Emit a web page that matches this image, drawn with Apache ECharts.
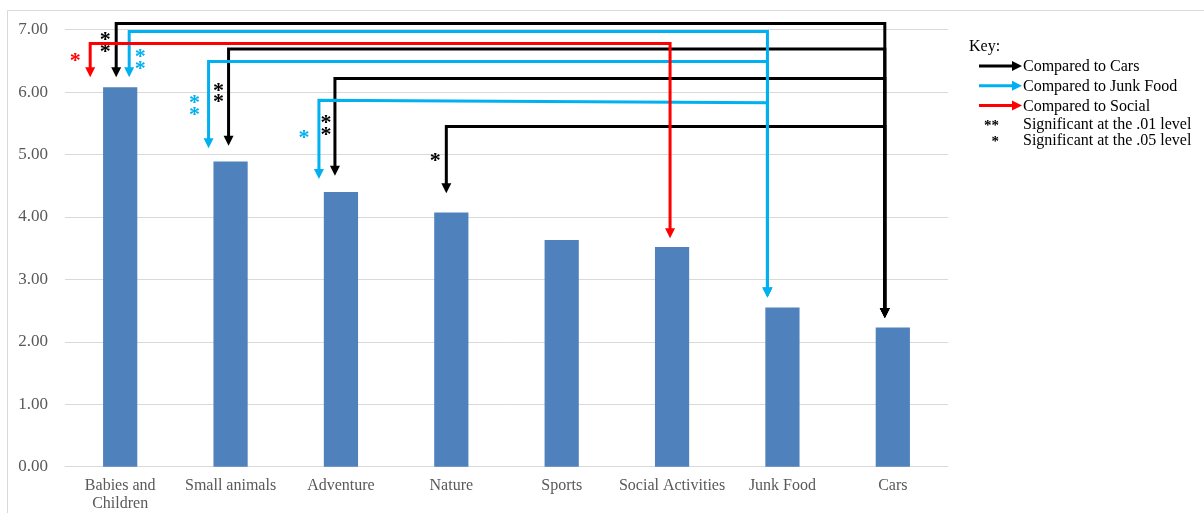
<!DOCTYPE html>
<html>
<head>
<meta charset="utf-8">
<title>Mean interest ratings by content category</title>
<script src="https://cdn.jsdelivr.net/npm/echarts@6/dist/echarts.min.js"></script>
<style>
  html, body { margin: 0; padding: 0; background: #ffffff; }
  #chart { width: 1204px; height: 513px; }
</style>
</head>
<body>
<div id="chart"></div>
<script>
// Categories along the x axis and their mean scores
const categories = ['Babies and\nChildren', 'Small animals', 'Adventure', 'Nature', 'Sports', 'Social Activities', 'Junk Food', 'Cars'];
const meanScores = [6.08, 4.89, 4.40, 4.07, 3.63, 3.52, 2.55, 2.23];
const yTicks = [0, 1, 2, 3, 4, 5, 6, 7];

// Pairwise comparisons: category compared against a reference category, with significance marker
const compareFrom = [0, 1, 2, 3, 0, 1, 2, 0];
const compareTo   = [7, 7, 7, 7, 6, 6, 6, 5];
const compareSig  = ['**', '**', '**', '*', '**', '**', '*', '*'];
const compareKind = ['cars', 'cars', 'cars', 'cars', 'junk', 'junk', 'junk', 'social'];

// Bracket geometry (value units for heights, px for horizontal nudges)
const bracketLevel    = [7.10, 6.69, 6.22, 5.45, 6.97, 6.49, 5.87, 6.78];
const bracketLevelEnd = [7.10, 6.69, 6.22, 5.45, 6.97, 6.49, 5.83, 6.78];
const bracketTipFrom  = [6.24, 5.14, 4.66, 4.38, 6.24, 5.10, 4.61, 6.24];
const bracketTipTo    = [2.38, 2.38, 2.38, 2.38, 2.71, 2.71, 2.71, 3.66];
const bracketDxFrom   = [-4, -2, -6, -5, 9, -22, -22, -30];
const bracketDxTo     = [-8, -8, -8, -8, -15, -15, -15, -2];
const sigDx           = [-11, -10, -9, -11, 11, -14, -15, -15];
const sigDy           = [12, 37, 40, 30, 21, 37, 33, 13];

const kindColor = { cars: '#000000', junk: '#00B0F0', social: '#FF0000' };

// Key entries
const keyTitle = 'Key:';
const keyArrows = [
  { label: 'Compared to Cars', kind: 'cars' },
  { label: 'Compared to Junk Food', kind: 'junk' },
  { label: 'Compared to Social', kind: 'social' }
];
const keyMarks = [
  { mark: '**', label: 'Significant at the .01 level' },
  { mark: '*', label: 'Significant at the .05 level' }
];

const serif = '"Liberation Serif", "DejaVu Serif", serif';
const chart = echarts.init(document.getElementById('chart'));

function arrowHead(x, y, color) {
  return {
    type: 'polygon',
    shape: { points: [[x, y], [x - 5, y - 10], [x + 5, y - 10]] },
    style: { fill: color }
  };
}

function renderBracket(params, api) {
  const i = params.dataIndex;
  const color = kindColor[compareKind[i]];
  const a = api.coord([compareFrom[i], bracketLevel[i]]);
  const b = api.coord([compareTo[i], bracketLevelEnd[i]]);
  const tipA = api.coord([compareFrom[i], bracketTipFrom[i]]);
  const tipB = api.coord([compareTo[i], bracketTipTo[i]]);
  const x1 = a[0] + bracketDxFrom[i];
  const x2 = b[0] + bracketDxTo[i];
  const children = [
    {
      type: 'polyline',
      shape: { points: [[x1, tipA[1] - 8], [x1, a[1]], [x2, b[1]], [x2, tipB[1] - 8]] },
      style: { stroke: color, lineWidth: 3, fill: null, lineJoin: 'miter' }
    },
    arrowHead(x1, tipA[1], color),
    arrowHead(x2, tipB[1], color)
  ];
  const stars = compareSig[i].split('');
  stars.forEach(function (s, k) {
    children.push({
      type: 'text',
      x: x1 + sigDx[i],
      y: a[1] + sigDy[i] + k * 11.7 + 5,
      style: {
        text: s, fill: color, font: 'bold 22px ' + serif,
        align: 'center', verticalAlign: 'middle'
      }
    });
  });
  return { type: 'group', children: children };
}

// Key drawn at the right of the plot
const keyGraphics = [];
keyGraphics.push({
  type: 'text', left: 969, top: 39,
  style: { text: keyTitle, font: '16px ' + serif, fill: '#000' }
});
keyArrows.forEach(function (item, k) {
  const y = 66 + k * 19.7;
  const c = kindColor[item.kind];
  keyGraphics.push({
    type: 'line', shape: { x1: 979, y1: y, x2: 1014, y2: y },
    style: { stroke: c, lineWidth: 3 }
  });
  keyGraphics.push({
    type: 'polygon', shape: { points: [[1022, y], [1012, y - 5], [1012, y + 5]] },
    style: { fill: c }
  });
  keyGraphics.push({
    type: 'text', x: 1023, y: y + 1,
    style: { text: item.label, font: '16px ' + serif, fill: '#000', verticalAlign: 'middle' }
  });
});
keyMarks.forEach(function (item, k) {
  const y = 125 + k * 16;
  keyGraphics.push({
    type: 'text', x: 999, y: y + 1,
    style: { text: item.mark, font: 'bold 15px ' + serif, fill: '#000', align: 'right', verticalAlign: 'middle' }
  });
  keyGraphics.push({
    type: 'text', x: 1023, y: y,
    style: { text: item.label, font: '16px ' + serif, fill: '#000', verticalAlign: 'middle' }
  });
});
// Faint chart-area frame
keyGraphics.push({
  type: 'polyline', shape: { points: [[7.5, 513], [7.5, 10.5], [1204, 10.5]] },
  style: { stroke: '#d9d9d9', lineWidth: 1, fill: null }
});

chart.setOption({
  backgroundColor: '#ffffff',
  animation: false,
  grid: { left: 65, right: 256, top: 29.7, bottom: 46.3, containLabel: false },
  xAxis: {
    type: 'category',
    data: categories,
    axisLine: { show: true, lineStyle: { color: '#d9d9d9', width: 1 } },
    axisTick: { show: false },
    axisLabel: {
      color: '#595959', fontFamily: serif, fontSize: 16, lineHeight: 18,
      margin: 10, interval: 0
    }
  },
  yAxis: {
    type: 'value',
    min: yTicks[0], max: yTicks[yTicks.length - 1], interval: 1,
    axisLine: { show: false },
    axisTick: { show: false },
    splitLine: { lineStyle: { color: '#d9d9d9', width: 1 } },
    axisLabel: {
      color: '#595959', fontFamily: serif, fontSize: 17, margin: 17,
      formatter: function (v) { return v.toFixed(2); }
    }
  },
  series: [
    {
      type: 'bar',
      data: meanScores,
      barWidth: '31%',
      itemStyle: { color: '#4F81BD' }
    },
    {
      type: 'custom',
      clip: false,
      z: 5,
      data: compareFrom.map(function (f, i) { return [f, bracketLevel[i]]; }),
      renderItem: renderBracket
    }
  ],
  graphic: keyGraphics
});
</script>
</body>
</html>
